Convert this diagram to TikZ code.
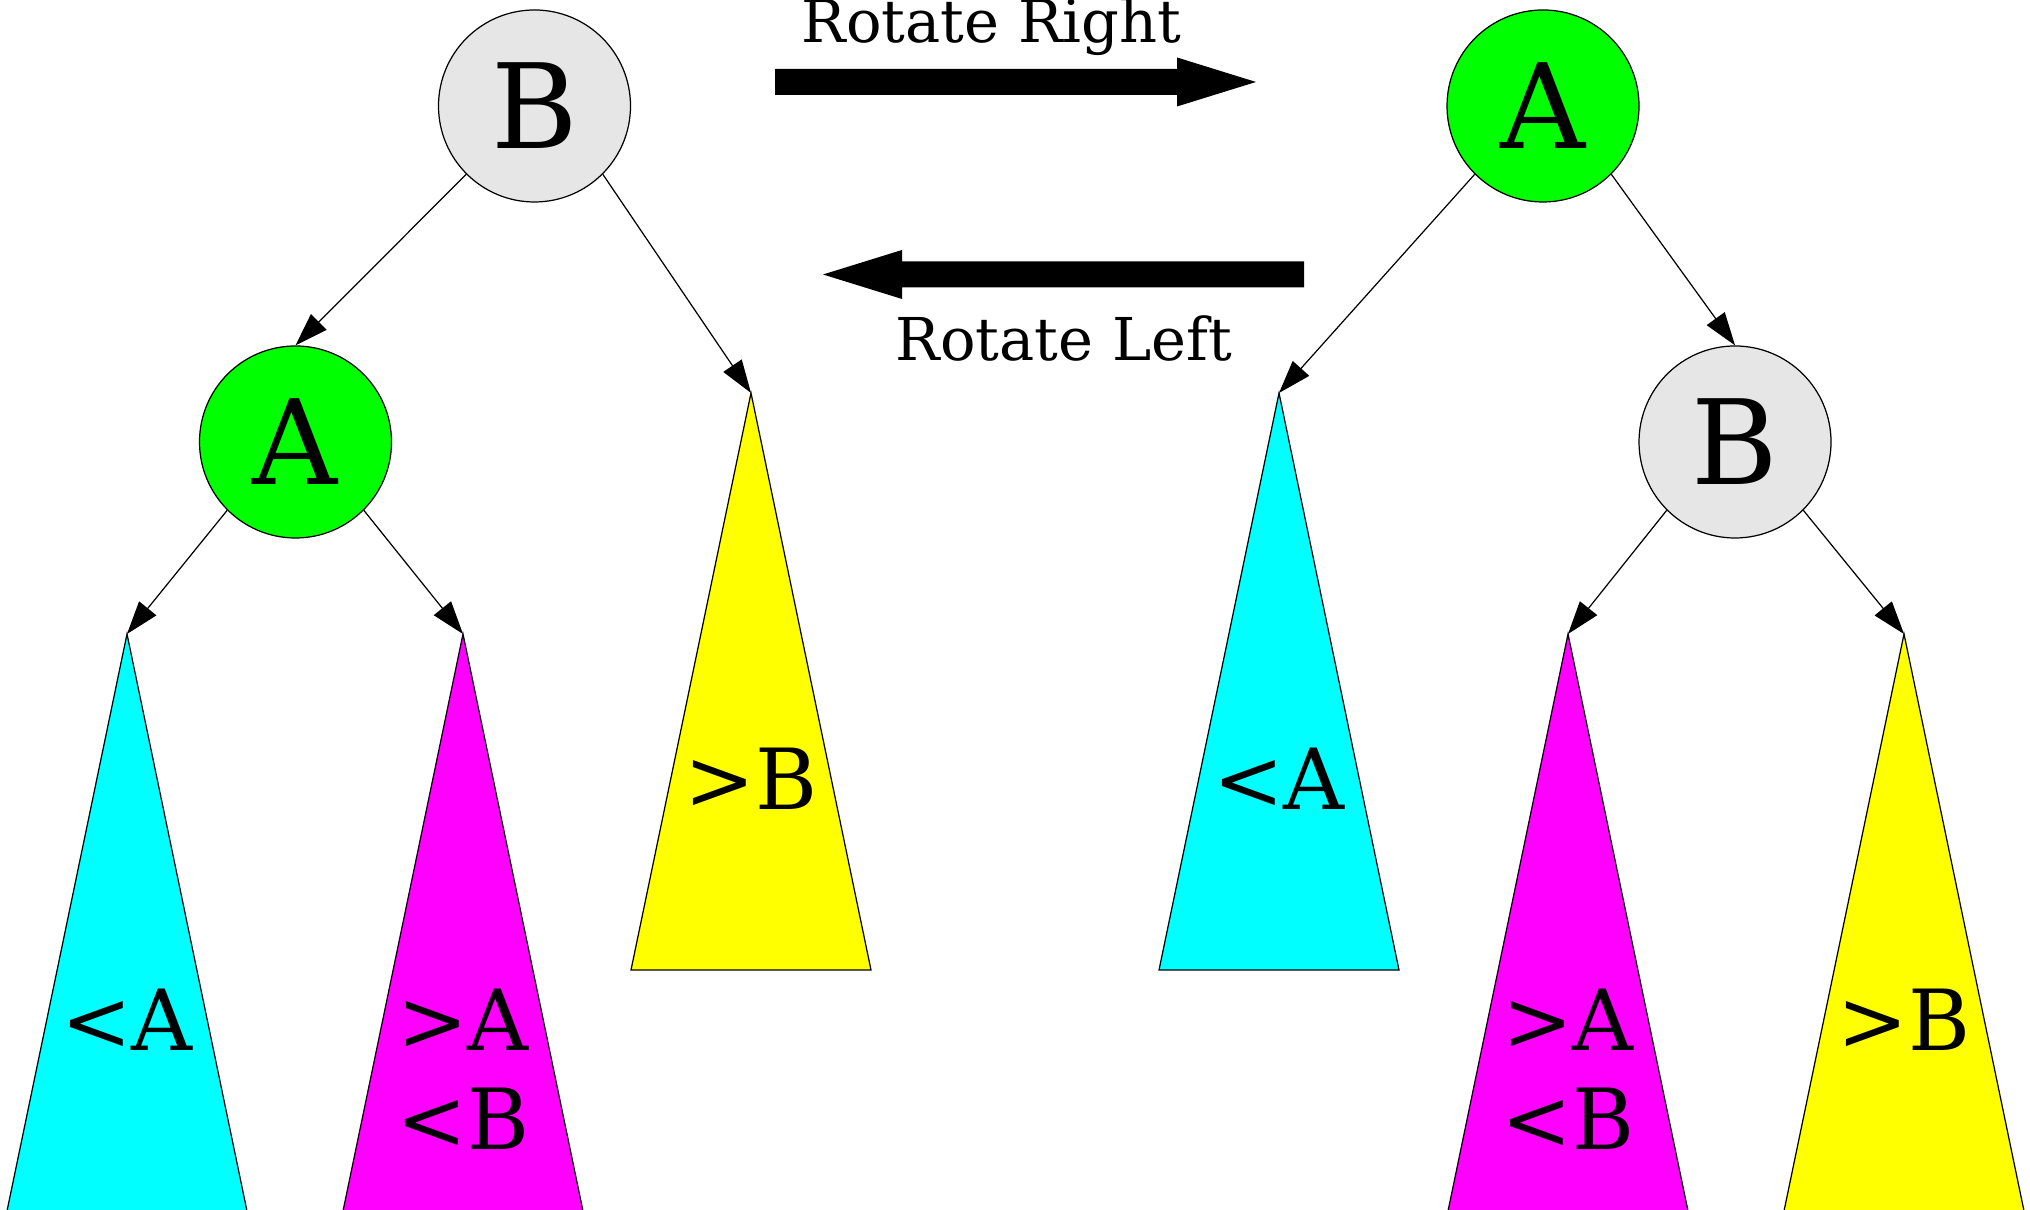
\documentclass[tikz,border=0pt]{standalone}
\usepackage{fontspec}
\setmainfont{DejaVu Serif}
\usetikzlibrary{arrows.meta}
\definecolor{keygray}{RGB}{230,230,230}
\definecolor{keygreen}{RGB}{0,255,0}
\definecolor{lowcyan}{RGB}{0,255,255}
\definecolor{midmagenta}{RGB}{255,0,255}
\definecolor{highyellow}{RGB}{255,255,0}

\begin{document}
\begin{tikzpicture}[
    key/.style={circle, draw, line width=0.35pt, minimum size=1.92cm, inner sep=0pt,
        font=\fontsize{33.5}{40}\selectfont},
    edge/.style={line width=0.35pt, -{Triangle[length=0.33cm, width=0.22cm]}},
    subtree/.style={draw, line width=0.35pt},
    sublabel/.style={anchor=base, align=center, font=\fontsize{24}{28.2}\selectfont},
    caption/.style={anchor=base, font=\fontsize{16.8}{20}\selectfont}
]
    \useasboundingbox (0,0) rectangle (20.3,12.1);

    % left tree
    \node[key, fill=keygray] (lB) at (5.345,11.04) {B};
    \node[key, fill=keygreen] (lA) at (2.955,7.68) {A};

    % left subtrees
    \coordinate (lt1) at (1.27,5.76);
    \coordinate (lt2) at (4.63,5.76);
    \coordinate (lt3) at (7.51,8.17);
    \filldraw[subtree, fill=lowcyan] (lt1) -- ++(-1.2,-5.77) -- ++(2.4,0) -- cycle;
    \filldraw[subtree, fill=midmagenta] (lt2) -- ++(-1.2,-5.77) -- ++(2.4,0) -- cycle;
    \filldraw[subtree, fill=highyellow] (lt3) -- ++(-1.2,-5.77) -- ++(2.4,0) -- cycle;
    \node[sublabel] (lt1text) at (1.27,1.59) {<A};
    \node[sublabel] (lt2text) at (4.63,0.60) {>A\\<B};
    \node[sublabel] (lt3text) at (7.51,4.00) {>B};

    \draw[edge] (lB.south west) -- (lA.north);
    \draw[edge] (lB.south east) -- (lt3);
    \draw[edge] (lA.south west) -- (lt1);
    \draw[edge] (lA.south east) -- (lt2);

    % right tree
    \node[key, fill=keygreen] (rA) at (15.43,11.04) {A};
    \node[key, fill=keygray] (rB) at (17.35,7.68) {B};

    % right subtrees
    \coordinate (rt1) at (12.79,8.17);
    \coordinate (rt2) at (15.68,5.76);
    \coordinate (rt3) at (19.04,5.76);
    \filldraw[subtree, fill=lowcyan] (rt1) -- ++(-1.2,-5.77) -- ++(2.4,0) -- cycle;
    \filldraw[subtree, fill=midmagenta] (rt2) -- ++(-1.2,-5.77) -- ++(2.4,0) -- cycle;
    \filldraw[subtree, fill=highyellow] (rt3) -- ++(-1.2,-5.77) -- ++(2.4,0) -- cycle;
    \node[sublabel] (rt1text) at (12.79,4.00) {<A};
    \node[sublabel] (rt2text) at (15.68,0.60) {>A\\<B};
    \node[sublabel] (rt3text) at (19.04,1.59) {>B};

    \draw[edge] (rA.south west) -- (rt1);
    \draw[edge] (rA.south east) -- (rB.north);
    \draw[edge] (rB.south west) -- (rt2);
    \draw[edge] (rB.south east) -- (rt3);

    % rotations
    \node[caption] (rotr) at (9.915,11.67) {Rotate Right};
    \fill (7.75,11.15) -- (11.77,11.15) -- (11.77,11.035) -- (12.56,11.28)
        -- (11.77,11.525) -- (11.77,11.41) -- (7.75,11.41) -- cycle;
    \node[caption] (rotl) at (10.64,8.49) {Rotate Left};
    \fill (13.04,9.225) -- (9.02,9.225) -- (9.02,9.11) -- (8.23,9.355)
        -- (9.02,9.60) -- (9.02,9.485) -- (13.04,9.485) -- cycle;
\end{tikzpicture}
\end{document}
